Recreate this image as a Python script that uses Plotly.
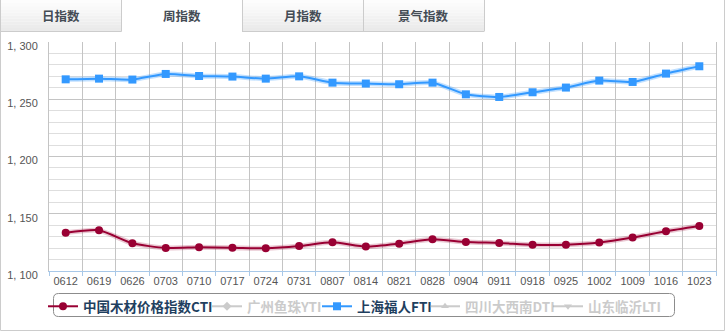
import plotly.graph_objects as go

# Weekly index values
weeks = ["0612", "0619", "0626", "0703", "0710", "0717", "0724", "0731", "0807", "0814",
         "0821", "0828", "0904", "0911", "0918", "0925", "1002", "1009", "1016", "1023"]
cti = [1133.5, 1135.5, 1124.2, 1120.1, 1120.7, 1120.4, 1119.8, 1121.8, 1125.1, 1121.3,
       1123.9, 1127.7, 1125.3, 1124.5, 1123.0, 1123.0, 1124.8, 1129.2, 1134.7, 1139.3]
fti = [1267.4, 1268.0, 1267.2, 1272.1, 1270.3, 1269.8, 1268.0, 1270.0, 1264.5, 1263.7,
       1263.1, 1264.5, 1254.3, 1252.0, 1256.1, 1260.2, 1266.3, 1265.1, 1272.4, 1278.8]

y_ticks = [1100, 1150, 1200, 1250, 1300]
y_tick_text = ["1, 100", "1, 150", "1, 200", "1, 250", "1, 300"]

tab_labels = ["日指数", "周指数", "月指数", "景气指数"]
active_tab = 1

W, H = 726, 332
L, R, T, B = 49, 716, 42, 271  # plot area in pixels


def px(x):
    return (x - L) / (R - L)


def py(y):
    return (B - y) / (B - T)


fig = go.Figure()

# soft halo under the two visible series
for vals, halo in ((cti, "rgba(153,0,51,0.22)"), (fti, "rgba(51,153,255,0.30)")):
    fig.add_trace(go.Scatter(
        x=weeks, y=vals, mode="lines", showlegend=False, hoverinfo="skip",
        line=dict(color=halo, width=5, shape="spline", smoothing=0.6),
    ))

fig.add_trace(go.Scatter(
    x=weeks, y=cti, name="中国木材价格指数CTI", legend="legend",
    mode="lines+markers", line=dict(color="#990033", width=2, shape="spline", smoothing=0.6),
    marker=dict(symbol="circle", size=8, color="#990033"),
))
fig.add_trace(go.Scatter(
    x=weeks, y=[None] * len(weeks), name="广州鱼珠YTI", legend="legend2", visible="legendonly",
    mode="lines+markers", line=dict(color="#999999", width=2),
    marker=dict(symbol="diamond", size=7, color="#999999"),
))
fig.add_trace(go.Scatter(
    x=weeks, y=fti, name="上海福人FTI", legend="legend3",
    mode="lines+markers", line=dict(color="#3399ff", width=2, shape="spline", smoothing=0.6),
    marker=dict(symbol="square", size=8, color="#3399ff"),
))
fig.add_trace(go.Scatter(
    x=weeks, y=[None] * len(weeks), name="四川大西南DTI", legend="legend4", visible="legendonly",
    mode="lines+markers", line=dict(color="#999999", width=2),
    marker=dict(symbol="triangle-up", size=7, color="#999999"),
))
fig.add_trace(go.Scatter(
    x=weeks, y=[None] * len(weeks), name="山东临沂LTI", legend="legend5", visible="legendonly",
    mode="lines+markers", line=dict(color="#999999", width=2),
    marker=dict(symbol="triangle-down", size=7, color="#999999"),
))

shapes = []
frame = "#cccccc"

# tabs along the top
tab_w = 121
for i, lab in enumerate(tab_labels):
    x0, x1 = i * tab_w, (i + 1) * tab_w
    if i != active_tab:
        steps = 10
        for s in range(steps):
            y0 = s * 31 / steps
            y1 = (s + 1) * 31 / steps
            g = int(255 - (255 - 233) * (s + 0.5) / steps)
            shapes.append(dict(type="rect", xref="paper", yref="paper", layer="below",
                               x0=px(x0), x1=px(x1), y0=py(y0), y1=py(y1),
                               line=dict(width=0), fillcolor=f"rgb({g},{g},{g})"))
        shapes.append(dict(type="line", xref="paper", yref="paper",
                           x0=px(x0), x1=px(x1), y0=py(31.5), y1=py(31.5),
                           line=dict(color=frame, width=1)))
    for xe in (x0 + 0.5, x1 + 0.5):
        shapes.append(dict(type="line", xref="paper", yref="paper",
                           x0=px(xe), x1=px(xe), y0=py(0), y1=py(31.5),
                           line=dict(color=frame, width=1)))
    fig.add_annotation(xref="paper", yref="paper", x=px((x0 + x1) / 2), y=py(16),
                       text=lab, showarrow=False, xanchor="center", yanchor="middle",
                       font=dict(family="Noto Sans CJK SC", size=12.5, color="#444c55", weight="bold"))

# outer frame
shapes.append(dict(type="line", xref="paper", yref="paper", x0=px(0.5), x1=px(0.5),
                   y0=py(31.5), y1=py(330.5), line=dict(color=frame, width=1)))
shapes.append(dict(type="line", xref="paper", yref="paper", x0=px(0.5), x1=px(724.5),
                   y0=py(330.5), y1=py(330.5), line=dict(color=frame, width=1)))
shapes.append(dict(type="line", xref="paper", yref="paper", x0=px(724.5), x1=px(724.5),
                   y0=py(0), y1=py(330.5), line=dict(color=frame, width=1)))

# rounded legend box
bx0, bx1, by0, by1, r = 53.5, 674.5, 293.5, 316.5, 5
path = (f"M {px(bx0 + r)},{py(by0)} L {px(bx1 - r)},{py(by0)} "
        f"Q {px(bx1)},{py(by0)} {px(bx1)},{py(by0 + r)} L {px(bx1)},{py(by1 - r)} "
        f"Q {px(bx1)},{py(by1)} {px(bx1 - r)},{py(by1)} L {px(bx0 + r)},{py(by1)} "
        f"Q {px(bx0)},{py(by1)} {px(bx0)},{py(by1 - r)} L {px(bx0)},{py(by0 + r)} "
        f"Q {px(bx0)},{py(by0)} {px(bx0 + r)},{py(by0)} Z")
shapes.append(dict(type="path", xref="paper", yref="paper", path=path,
                   line=dict(color="#8c8c8c", width=1)))

fig.update_layout(shapes=shapes)

leg_font_on = dict(family="Noto Sans CJK SC", size=13.5, color="#1f3f5f", weight="bold")
leg_font_off = dict(family="Noto Sans CJK SC", size=13.5, color="#999999", weight="bold")
text_starts = [83, 247, 357, 465, 588]
leg_names = ["legend", "legend2", "legend3", "legend4", "legend5"]
for i, (nm, xs) in enumerate(zip(leg_names, text_starts)):
    fig.update_layout({nm: dict(
        xref="container", yref="container", x=(xs - 40) / W, y=1 - 306.5 / H,
        xanchor="left", yanchor="middle", orientation="h",
        bgcolor="rgba(0,0,0,0)", borderwidth=0, itemwidth=30,
        font=leg_font_on if i in (0, 2) else leg_font_off,
    )})

axis_font = dict(family="Liberation Sans", size=11, color="#555555")
fig.update_layout(
    width=W, height=H,
    margin=dict(l=L, r=W - R, t=T, b=H - B, autoexpand=False),
    paper_bgcolor="white", plot_bgcolor="white",
    showlegend=True,
    xaxis=dict(
        type="category", range=[-0.5, len(weeks) - 0.5], tickson="boundaries",
        showgrid=True, gridcolor="#c4c4c4", gridwidth=1, tickangle=0,
        ticks="outside", ticklen=4, tickcolor="#a8c8e8",
        showline=True, linecolor="#a8c8e8", linewidth=1,
        tickfont=axis_font, zeroline=False, fixedrange=True, automargin=False,
    ),
    yaxis=dict(
        range=[1100, 1300], tickvals=y_ticks, ticktext=y_tick_text,
        showgrid=True, gridcolor="#c4c4c4", gridwidth=1,
        minor=dict(dtick=10, showgrid=True, gridcolor="#dedede", gridwidth=1),
        showline=True, linecolor="#c4c4c4", mirror=True,
        ticks="", tickfont=axis_font, ticklabelstandoff=8, ticklabelshift=4,
        zeroline=False, fixedrange=True, automargin=False,
    ),
)

fig.write_html("out.html")
